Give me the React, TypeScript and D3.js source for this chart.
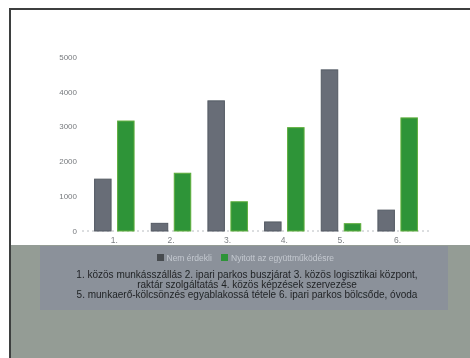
import React from "react";
import * as d3 from "d3";

const categories = ["1.", "2.", "3.", "4.", "5.", "6."];
const seriesNames = ["Nem érdekli", "Nyitott az együttműködésre"];
const notInterested = [1490, 220, 3740, 260, 4630, 600];
const openToCoop = [3160, 1660, 840, 2970, 210, 3250];
const yTicks = [0, 1000, 2000, 3000, 4000, 5000];
const footnoteLines = [
  "1. közös munkásszállás 2. ipari parkos buszjárat 3. közös logisztikai központ,",
  "raktár szolgáltatás 4. közös képzések szervezése",
  "5. munkaerő-kölcsönzés egyablakossá tétele 6. ipari parkos bölcsőde, óvoda",
];

const W = 470;
const H = 358;
const colors = ["#676d77", "#2f9438"];
const strokes = ["#555b64", "#5fae3c"];

export default function App() {
  const x0 = d3.scaleBand<string>().domain(categories).range([86, 426]).paddingInner(0).paddingOuter(0);
  const x1 = d3.scaleBand<string>().domain(["a", "b"]).range([0, x0.bandwidth()]).paddingInner(0.283).paddingOuter(0.373);
  const y = d3.scaleLinear().domain([0, 5000]).range([231, 57]);
  const series = [notInterested, openToCoop];
  const font = "'Liberation Sans', Arial, sans-serif";

  return (
    <svg
      width={W}
      height={H}
      style={{ position: "absolute", left: 0, top: 0 }}
      fontFamily={font}
    >
      <defs>
        <filter id="soft">
          <feGaussianBlur stdDeviation="0.35" />
        </filter>
      </defs>
      <rect x={0} y={0} width={W} height={H} fill="#ffffff" />
      {/* lower panel */}
      <rect x={10} y={245} width={W - 10} height={H - 245} fill="#949c95" />
      <rect x={40} y={246} width={408} height={64} fill="#8b919a" />
      {/* frame */}
      <line x1={10} y1={9} x2={W} y2={9} stroke="#3d3f3f" strokeWidth={2} />
      <line x1={10} y1={8} x2={10} y2={H} stroke="#3d3f3f" strokeWidth={2} />

      <g filter="url(#soft)">
        {/* y axis labels */}
        {yTicks.map((t) => (
          <text
            key={t}
            x={77}
            y={y(t)}
            dy="0.35em"
            textAnchor="end"
            fontSize={8}
            fill="#777a7e"
          >
            {t}
          </text>
        ))}
        {/* baseline */}
        <line
          x1={82}
          x2={432}
          y1={y(0)}
          y2={y(0)}
          stroke="#b8bcc0"
          strokeWidth={1}
          strokeDasharray="2,3"
        />
        {/* bars */}
        {categories.map((c, i) => (
          <g key={c} transform={`translate(${x0(c)},0)`}>
            {series.map((s, j) => (
              <rect
                key={j}
                x={x1(j === 0 ? "a" : "b")!}
                y={y(s[i])}
                width={x1.bandwidth()}
                height={y(0) - y(s[i])}
                fill={colors[j]}
                stroke={strokes[j]}
                strokeWidth={1}
              />
            ))}
            <text
              x={x0.bandwidth() / 2}
              y={243}
              textAnchor="middle"
              fontSize={8.5}
              fill="#7d8084"
            >
              {c}
            </text>
          </g>
        ))}
        {/* legend */}
        <g transform="translate(157,254)">
          <rect x={0} y={0} width={7} height={7} fill="#474b50" />
          <text x={9.5} y={6.8} fontSize={8.5} fill="#c4c9d0">
            {seriesNames[0]}
          </text>
          <rect x={64} y={0} width={7} height={7} fill="#2f9438" />
          <text x={74} y={6.8} fontSize={8.5} fill="#c4c9d0">
            {seriesNames[1]}
          </text>
        </g>
        {/* footnote */}
        {footnoteLines.map((l, i) => (
          <text
            key={i}
            x={247}
            y={278 + i * 9.8}
            textAnchor="middle"
            fontSize={10}
            fill="#1e2124"
          >
            {l}
          </text>
        ))}
      </g>
    </svg>
  );
}
